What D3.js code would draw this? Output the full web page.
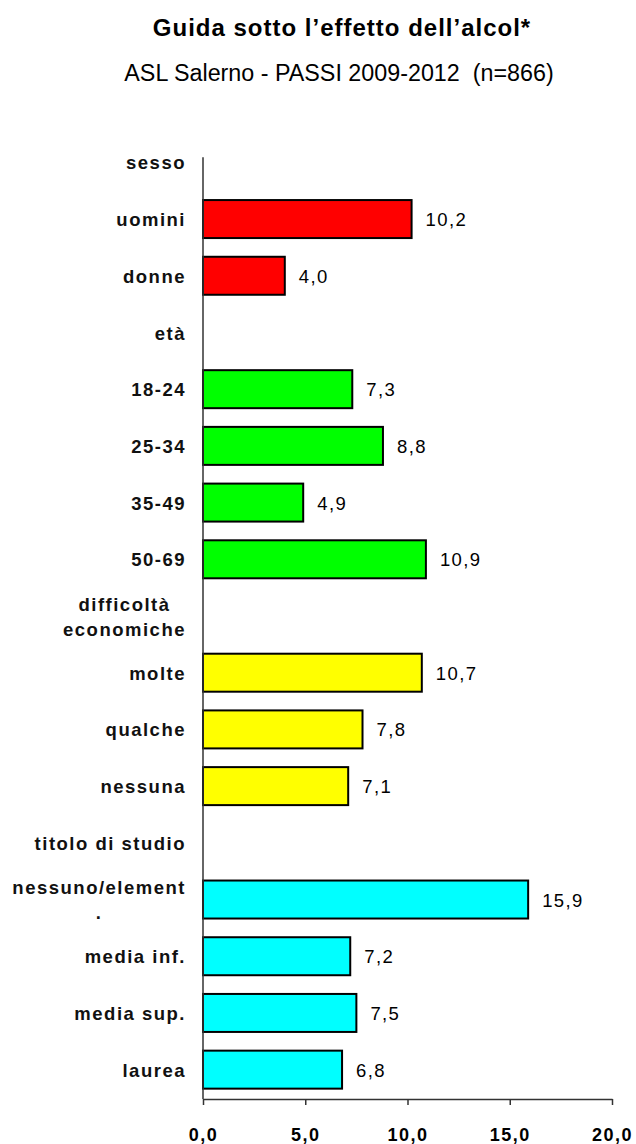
<!DOCTYPE html>
<html>
<head>
<meta charset="utf-8">
<script src="https://cdn.jsdelivr.net/npm/d3@7"></script>
<style>
  html, body { margin: 0; padding: 0; background: #fff; }
  svg { display: block; font-family: "Liberation Sans", Arial, sans-serif; }
</style>
</head>
<body>
<div id="chart"></div>
<script>
// Row labels, top to bottom ("\n" splits a label onto two lines)
const categories = [
  "sesso", "uomini", "donne",
  "età", "18-24", "25-34", "35-49", "50-69",
  "difficoltà\neconomiche", "molte", "qualche ", "nessuna",
  "titolo di studio", "nessuno/element\n.", "media inf.", "media sup.", "laurea"
];
// Percentages; null marks a group heading row
const values = [
  null, 10.2, 4.0,
  null, 7.3, 8.8, 4.9, 10.9,
  null, 10.7, 7.8, 7.1,
  null, 15.9, 7.2, 7.5, 6.8
];
// Group of each row (selects the bar colour)
const groups = [
  0, 0, 0,
  1, 1, 1, 1, 1,
  2, 2, 2, 2,
  3, 3, 3, 3, 3
];
const groupColors = ["#ff0000", "#00ff00", "#ffff00", "#00ffff"];
const xTicks = [0, 5, 10, 15, 20];

const title = "Guida sotto l\u2019effetto dell\u2019alcol*";
const subtitle = "ASL Salerno - PASSI 2009-2012  (n=866)";

const W = 636, H = 1144;
const plot = { left: 203, right: 612, top: 134, bottom: 1098 };

const rows = categories.map((c, i) => ({ i, label: c, value: values[i], group: groups[i] }));

const svg = d3.select("#chart").append("svg")
  .attr("width", W).attr("height", H)
  .attr("viewBox", `0 0 ${W} ${H}`);

const x = d3.scaleLinear().domain([0, 20]).range([plot.left, plot.right]);
const y = d3.scaleBand()
  .domain(rows.map(r => r.i))
  .range([plot.top, plot.bottom])
  .paddingInner(0.33)
  .paddingOuter(0.165);

const fmt = v => d3.format(".1f")(v).replace(".", ",");

// Titles
svg.append("text")
  .attr("x", 342).attr("y", 36)
  .attr("text-anchor", "middle")
  .style("font-size", "24px").style("font-weight", "bold")
  .style("letter-spacing", "1px")
  .text(title);

svg.append("text")
  .attr("x", 339).attr("y", 81)
  .attr("text-anchor", "middle")
  .style("font-size", "23.3px")
  .style("white-space", "pre")
  .text(subtitle);

// Bars
const barRows = rows.filter(r => r.value != null);
svg.append("g").selectAll("rect")
  .data(barRows)
  .join("rect")
  .attr("x", x(0))
  .attr("y", d => y(d.i))
  .attr("width", d => x(d.value) - x(0))
  .attr("height", y.bandwidth())
  .attr("fill", d => groupColors[d.group])
  .attr("stroke", "#000")
  .attr("stroke-width", 2);

// Value labels
svg.append("g").selectAll("text")
  .data(barRows)
  .join("text")
  .attr("x", d => x(d.value) + 14)
  .attr("y", d => y(d.i) + y.bandwidth() / 2)
  .attr("dy", "0.38em")
  .style("font-size", "18.5px")
  .style("letter-spacing", "1.4px")
  .attr("fill", "#000")
  .text(d => fmt(d.value));

// Vertical axis line
const axisTop = y(0) + y.bandwidth() / 2 - 5;
svg.append("line")
  .attr("x1", x(0)).attr("x2", x(0))
  .attr("y1", axisTop).attr("y2", plot.bottom + 1)
  .attr("stroke", "#333").attr("stroke-width", 1.5);

// Category labels (multi-line labels are centred as a block, right-aligned)
const labelRight = plot.left - 17;
const lineH = 25;
const labG = svg.append("g")
  .style("font-size", "18.5px").style("font-weight", "bold")
  .style("letter-spacing", "1.5px");

rows.forEach(r => {
  const lines = r.label.split("\n");
  const cy = y(r.i) + y.bandwidth() / 2;
  const t = labG.append("text").attr("fill", "#111");
  lines.forEach((ln, k) => {
    t.append("tspan")
      .attr("y", cy + (k - (lines.length - 1) / 2) * lineH)
      .attr("dy", "0.38em")
      .text(ln);
  });
  if (lines.length === 1) {
    t.attr("text-anchor", "end").selectAll("tspan").attr("x", labelRight);
  } else {
    const widths = [];
    t.selectAll("tspan").each(function () { widths.push(this.getComputedTextLength()); });
    const maxW = d3.max(widths);
    const cx = labelRight - maxW / 2;
    t.attr("text-anchor", "middle").selectAll("tspan").attr("x", cx);
  }
});

// Horizontal axis
const xAxis = d3.axisBottom(x)
  .tickValues(xTicks)
  .tickFormat(fmt)
  .tickSize(6)
  .tickSizeOuter(0)
  .tickPadding(23);

const gx = svg.append("g")
  .attr("transform", `translate(0,${plot.bottom + 1})`)
  .call(xAxis);
gx.select(".domain").attr("stroke", "#333").attr("stroke-width", 1.5);
gx.selectAll(".tick line").attr("stroke", "#333").attr("stroke-width", 1.5);
gx.selectAll(".tick text")
  .attr("fill", "#000")
  .style("font-family", "'Liberation Sans', Arial, sans-serif")
  .style("font-size", "18px").style("font-weight", "bold")
  .style("letter-spacing", "1.5px");
</script>
</body>
</html>
